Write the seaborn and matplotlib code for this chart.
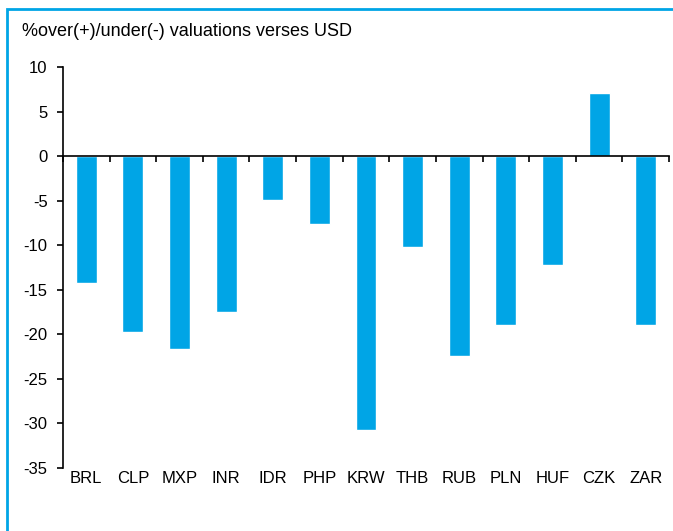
import numpy as np
import matplotlib
matplotlib.use("Agg")
import matplotlib.pyplot as plt
import seaborn as sns
from matplotlib.patches import Rectangle

# valuation vs USD, % over(+)/under(-)
currencies = ["BRL", "CLP", "MXP", "INR", "IDR", "PHP", "KRW",
              "THB", "RUB", "PLN", "HUF", "CZK", "ZAR"]
valuation = [-14.2, -19.7, -21.7, -17.5, -4.9, -7.6, -30.7,
             -10.2, -22.4, -18.9, -12.2, 7.1, -18.9]
y_ticks = [10, 5, 0, -5, -10, -15, -20, -25, -30, -35]

sns.set_style("white")
plt.rcParams["font.family"] = ["Liberation Sans", "DejaVu Sans"]
plt.rcParams["text.color"] = "black"
plt.rcParams["xtick.color"] = "black"
plt.rcParams["ytick.color"] = "black"

blue = "#00A5E6"
fig = plt.figure(figsize=(6.73, 5.31), dpi=100)
ax = fig.add_axes([63 / 673, 63 / 531, 606 / 673, 401 / 531])

sns.barplot(x=currencies, y=valuation, color=blue, width=0.45,
            saturation=1, ax=ax)

ax.set_xlim(-0.5, len(currencies) - 0.5)
ax.set_ylim(-35, 10)
ax.set_yticks(y_ticks)
ax.set_yticklabels([str(t) for t in y_ticks])
ax.tick_params(axis="y", direction="out", length=4, width=1.2, pad=7,
               labelsize=12, left=True, colors="black")

# zero line with ticks between categories
ax.spines["bottom"].set_position(("data", 0))
ax.set_xticks(np.arange(-0.5, len(currencies)))
ax.set_xticklabels([])
ax.tick_params(axis="x", direction="out", length=4, width=1.2, bottom=True,
               colors="black")
for s in ["top", "right"]:
    ax.spines[s].set_visible(False)
for s in ["left", "bottom"]:
    ax.spines[s].set_color("black")
    ax.spines[s].set_linewidth(1.2)

# category labels along the bottom
sec = ax.secondary_xaxis(0)
sec.set_xticks(range(len(currencies)))
sec.set_xticklabels(currencies)
sec.tick_params(length=0, pad=2, labelsize=12, colors="black")
sec.spines["bottom"].set_visible(False)

ax.set_xlabel("")
ax.set_ylabel("")

fig.text(22 / 673, 1 - 32 / 531, "%over(+)/under(-) valuations verses USD",
         fontsize=13, va="center", ha="left", color="black")

fig.patches.append(Rectangle((7 / 673, -0.1), 1.2, 1.1 - 9 / 531,
                             transform=fig.transFigure, fill=False,
                             edgecolor=blue, linewidth=2))

fig.savefig("out.png", dpi=100)
